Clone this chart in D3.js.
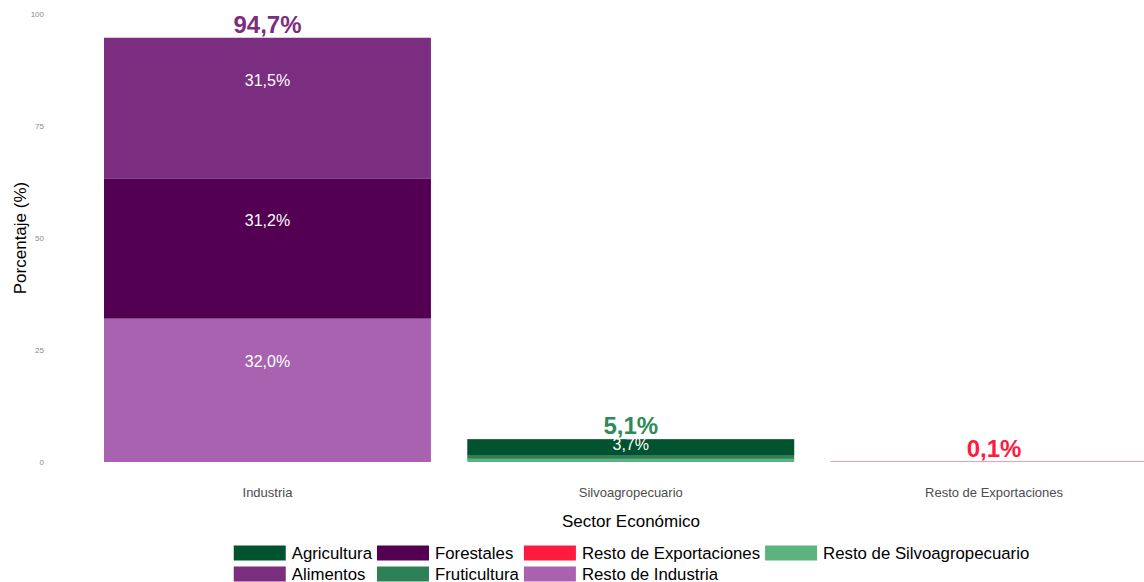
<!DOCTYPE html>
<html>
<head>
<meta charset="utf-8">
<script src="https://cdn.jsdelivr.net/npm/d3@7/dist/d3.min.js"></script>
<style>
  html, body { margin: 0; padding: 0; background: #fff; overflow: hidden; }
  svg { display: block; font-family: "Liberation Sans", Arial, sans-serif; }
</style>
</head>
<body>
<svg id="chart" width="1144" height="582"></svg>
<script>
// ---- data ----
const sectors = ["Industria", "Silvoagropecuario", "Resto de Exportaciones"];
const subsectors = ["Agricultura", "Alimentos", "Forestales", "Fruticultura",
                    "Resto de Exportaciones", "Resto de Industria", "Resto de Silvoagropecuario"];
const segSector = ["Industria", "Industria", "Industria",
                   "Silvoagropecuario", "Silvoagropecuario", "Silvoagropecuario",
                   "Resto de Exportaciones"];
const segName = ["Alimentos", "Forestales", "Resto de Industria",
                 "Agricultura", "Fruticultura", "Resto de Silvoagropecuario",
                 "Resto de Exportaciones"];
const segValue = [31.5, 31.2, 32.0, 3.7, 0.7, 0.7, 0.1];
const yTicks = [0, 25, 50, 75, 100];

// ---- styles ----
const subColors = ["#00532e", "#7b2d80", "#530053", "#2e8057", "#ff1a40", "#a862b0", "#5db37e"];
const totalColors = ["#7b2d80", "#2e8b57", "#ff1a40"];

const svg = d3.select("#chart");
const color = d3.scaleOrdinal().domain(subsectors).range(subColors);
const totalColor = d3.scaleOrdinal().domain(sectors).range(totalColors);

const x = d3.scaleBand().domain(sectors).range([49.5, 1212]).paddingInner(0.1).paddingOuter(0.15);
const y = d3.scaleLinear().domain([0, 100]).range([462, 14]);

// build stacked segments (first factor level on top => stack by reverse level order)
const segs = segName.map((n, i) => ({ sector: segSector[i], name: n, value: segValue[i] }));
const stacked = [];
const totals = {};
sectors.forEach(s => {
  const items = segs.filter(d => d.sector === s)
    .sort((a, b) => subsectors.indexOf(b.name) - subsectors.indexOf(a.name));
  let acc = 0;
  items.forEach(d => { stacked.push({ ...d, y0: acc, y1: acc + d.value }); acc += d.value; });
  totals[s] = acc;
});

const fmt = v => d3.format(".1f")(v).replace(".", ",") + "%";

// bars
svg.append("g").selectAll("rect").data(stacked).join("rect")
  .attr("x", d => x(d.sector))
  .attr("width", x.bandwidth())
  .attr("y", d => y(d.y1))
  .attr("height", d => y(d.y0) - y(d.y1))
  .attr("fill", d => color(d.name));

// segment labels
svg.append("g").selectAll("text").data(stacked.filter(d => d.value >= 2)).join("text")
  .attr("x", d => x(d.sector) + x.bandwidth() / 2)
  .attr("y", d => y(d.y0 + d.value * 0.7))
  .attr("dy", "0.35em")
  .attr("text-anchor", "middle")
  .attr("fill", "#fff")
  .attr("font-size", 16)
  .text(d => fmt(d.value));

// total labels
svg.append("g").selectAll("text").data(sectors).join("text")
  .attr("x", s => x(s) + x.bandwidth() / 2)
  .attr("y", s => y(totals[s]) - 5)
  .attr("text-anchor", "middle")
  .attr("fill", s => totalColor(s))
  .attr("font-size", 24)
  .attr("font-weight", "bold")
  .text(s => fmt(totals[s]));

// y axis
const yAxis = svg.append("g").attr("transform", "translate(44,0)")
  .call(d3.axisLeft(y).tickValues(yTicks).tickSize(0).tickPadding(0));
yAxis.select(".domain").remove();
yAxis.selectAll("text").attr("font-size", 8).attr("fill", "#8a8a8a")
  .attr("font-family", "Liberation Sans, Arial, sans-serif");

// x axis
const xAxis = svg.append("g").attr("transform", "translate(0,462)")
  .call(d3.axisBottom(x).tickSize(0).tickPadding(0));
xAxis.select(".domain").remove();
xAxis.selectAll("text").attr("font-size", 13).attr("fill", "#4d4d4d")
  .attr("dy", null).attr("y", 35)
  .attr("font-family", "Liberation Sans, Arial, sans-serif");

// axis titles
svg.append("text")
  .attr("transform", "translate(26,238) rotate(-90)")
  .attr("text-anchor", "middle")
  .attr("font-size", 17).attr("fill", "#000")
  .text("Porcentaje (%)");
svg.append("text")
  .attr("x", 631).attr("y", 527)
  .attr("text-anchor", "middle")
  .attr("font-size", 17).attr("fill", "#000")
  .text("Sector Económico");

// legend: 2 rows, filled by column
const keyW = 52, keyH = 15, textGap = 6, colGap = 5, rowStep = 21, legFont = 16.8;
const nRows = 2;
const nCols = Math.ceil(subsectors.length / nRows);
const legend = svg.append("g");
const measure = svg.append("text").attr("font-size", legFont).attr("visibility", "hidden");
const widths = subsectors.map(s => { measure.text(s); return measure.node().getComputedTextLength(); });
measure.remove();
const colW = d3.range(nCols).map(c => {
  const ws = d3.range(nRows).map(r => widths[c * nRows + r] || 0);
  return keyW + textGap + d3.max(ws) + colGap;
});
const totalW = d3.sum(colW) - colGap;
let cx = 631.5 - totalW / 2;
const colX = colW.map(w => { const v = cx; cx += w; return v; });
subsectors.forEach((s, i) => {
  const c = Math.floor(i / nRows), r = i % nRows;
  const gx = colX[c], gy = 545.5 + r * rowStep;
  legend.append("rect").attr("x", gx).attr("y", gy).attr("width", keyW).attr("height", keyH)
    .attr("fill", color(s));
  legend.append("text").attr("x", gx + keyW + textGap).attr("y", gy + keyH / 2)
    .attr("dy", "0.35em").attr("font-size", legFont).attr("fill", "#000").text(s);
});
</script>
</body>
</html>
